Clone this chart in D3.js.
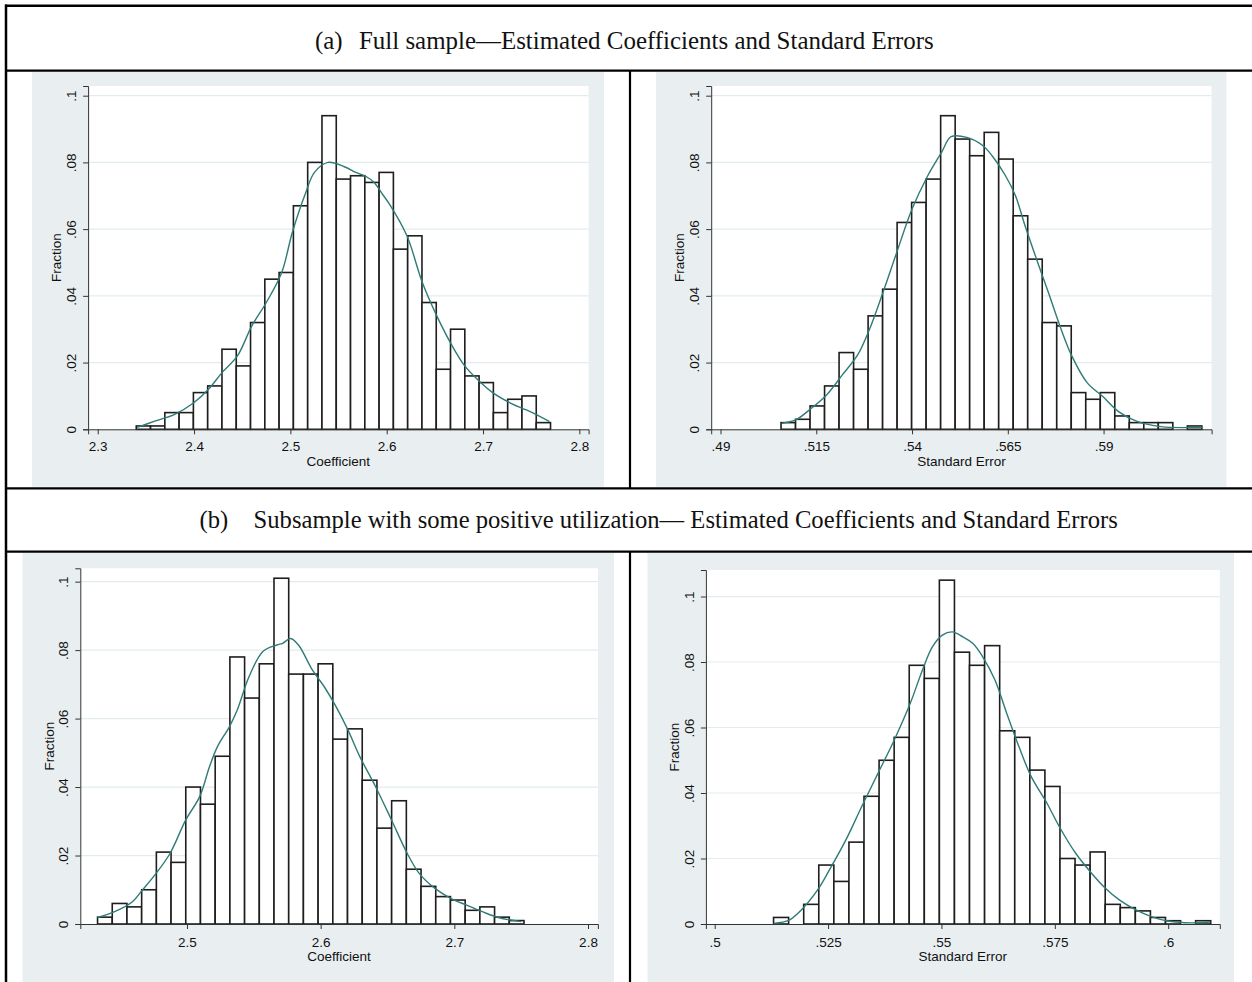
<!DOCTYPE html>
<html><head><meta charset="utf-8">
<script src="https://cdn.jsdelivr.net/npm/d3@7"></script>
<style>html,body{margin:0;padding:0;background:#fff;}svg{display:block;}</style>
</head><body>
<script>
// ---------- DATA ----------
const titleALabel = "(a)";
const titleAText = "Full sample—Estimated Coefficients and Standard Errors";
const titleBLabel = "(b)";
const titleBText = "Subsample with some positive utilization— Estimated Coefficients and Standard Errors";

const yTickVals = [0, 0.02, 0.04, 0.06, 0.08, 0.1];
const yTickLabels = ["0", ".02", ".04", ".06", ".08", ".1"];
const yTitle = "Fraction";

// (a) full sample, coefficient
const coefFullBins = [0.001,0.001,0.005,0.005,0.011,0.013,0.024,0.019,0.032,0.045,0.047,0.067,0.080,0.094,0.075,0.076,0.074,0.077,0.054,0.058,0.038,0.018,0.030,0.016,0.014,0.005,0.009,0.010,0.002];
const coefFullBinStart = 2.34, coefFullBinWidth = 0.01483;
const coefFullCurveX = [2.341,2.36,2.38,2.399,2.415,2.429,2.445,2.46,2.475,2.491,2.502,2.516,2.525,2.539,2.556,2.568,2.579,2.587,2.595,2.604,2.621,2.637,2.652,2.668,2.681,2.694,2.71,2.729,2.745,2.756,2.769];
const coefFullCurveY = [0.0006,0.0025,0.0045,0.0078,0.012,0.017,0.022,0.031,0.038,0.047,0.059,0.071,0.077,0.080,0.0787,0.077,0.0757,0.074,0.0707,0.067,0.058,0.044,0.034,0.025,0.019,0.015,0.011,0.0078,0.0058,0.0043,0.0023];
const coefFullTicks = [2.3, 2.4, 2.5, 2.6, 2.7, 2.8];
const coefFullTickLabels = ["2.3","2.4","2.5","2.6","2.7","2.8"];

// (a) full sample, standard error
const seFullBins = [0.002,0.003,0.007,0.013,0.023,0.018,0.034,0.042,0.062,0.068,0.075,0.094,0.087,0.082,0.089,0.081,0.064,0.051,0.032,0.031,0.011,0.009,0.011,0.004,0.002,0.002,0.002,0,0.001];
const seFullBinStart = 0.5058, seFullBinWidth = 0.003788;
const seFullCurveX = [.5060,.5096,.5137,.5177,.5218,.5258,.5289,.5324,.5360,.5400,.5441,.5477,.5502,.5543,.5583,.5609,.5644,.5670,.5695,.5725,.5756,.5786,.5817,.5857,.5898,.5939,.5989,.6050,.6111,.6158];
const seFullCurveY = [.0018,.0028,.0063,.0103,.0163,.0223,.030,.041,.053,.066,.076,.083,.0877,.0875,.0852,.082,.076,.070,.061,.051,.041,.031,.022,.014,.0098,.0053,.0023,.0008,.0005,.0006];
const seFullTicks = [0.49, 0.515, 0.54, 0.565, 0.59];
const seFullTickLabels = [".49",".515",".54",".565",".59"];

// (b) subsample, coefficient
const coefSubBins = [0.002,0.006,0.005,0.010,0.021,0.018,0.040,0.035,0.049,0.078,0.066,0.076,0.101,0.073,0.073,0.076,0.054,0.057,0.042,0.028,0.036,0.016,0.011,0.008,0.007,0.004,0.005,0.002,0.001];
const coefSubBinStart = 2.4331, coefSubBinWidth = 0.011;
const coefSubCurveX = [2.4331,2.4459,2.4592,2.4666,2.4769,2.4873,2.4991,2.5095,2.5169,2.5228,2.5317,2.5376,2.5464,2.5568,2.5672,2.5716,2.5775,2.5834,2.5938,2.6027,2.6115,2.6204,2.6293,2.6411,2.6530,2.6648,2.6737,2.6855,2.6973,2.7092,2.7210,2.7328,2.75];
const coefSubCurveY = [.0019,.0036,.0065,.0099,.0148,.0206,.0304,.0372,.0460,.0518,.0576,.0625,.0722,.0796,.0815,.0820,.0834,.0815,.0742,.0693,.0635,.0567,.0489,.0401,.0304,.0206,.0148,.0104,.0075,.0055,.0036,.0019,.0007];
const coefSubTicks = [2.5, 2.6, 2.7, 2.8];
const coefSubTickLabels = ["2.5","2.6","2.7","2.8"];

// (b) subsample, standard error
const seSubBins = [0.002,0,0.006,0.018,0.013,0.025,0.039,0.050,0.057,0.079,0.075,0.105,0.083,0.079,0.085,0.059,0.057,0.047,0.042,0.020,0.018,0.022,0.006,0.005,0.004,0.002,0.001,0,0.001];
const seSubBinStart = 0.51298, seSubBinWidth = 0.003324;
const seSubCurveX = [.5130,.5164,.5191,.5227,.5253,.5289,.5324,.5360,.5396,.5431,.5458,.5480,.5502,.5524,.5547,.5569,.5591,.5618,.5644,.5671,.5698,.5733,.5760,.5796,.5831,.5858,.5893,.5929,.5964,.6000,.6036,.6071,.6093];
const seSubCurveY = [.0002,.0012,.0043,.0104,.0165,.0256,.0358,.0460,.0562,.0673,.0775,.0846,.0882,.0892,.0877,.0857,.0816,.0745,.0643,.0541,.0450,.0368,.0297,.0216,.0155,.0114,.0073,.0043,.0022,.0009,.0004,.0004,.0006];
const seSubTicks = [0.5, 0.525, 0.55, 0.575, 0.6];
const seSubTickLabels = [".5",".525",".55",".575",".6"];

// ---------- LAYOUT ----------
const W = 1252, H = 982;
const svg = d3.select("body").append("svg").attr("width", W).attr("height", H);

const BG = "#e9eff1", GRID = "#e2ebee", BAR_STROKE = "#1e1e1e", CURVE = "#2f7b76";
const axisFont = "'Liberation Sans', Arial, sans-serif";
const serif = "'Liberation Serif', 'Times New Roman', serif";
const AFS = 13.5;

const panels = [
  {bg:[32,71.7,604,486.7], plot:[88.1,86,588.6,429.3], xDom:[2.2900,2.8096], yMax:0.1029,
   bins:coefFullBins, start:coefFullBinStart, width:coefFullBinWidth, cx:coefFullCurveX, cy:coefFullCurveY,
   ticks:coefFullTicks, tickLabels:coefFullTickLabels, xTitle:"Coefficient", pad:7},
  {bg:[656,71.7,1226.5,486.7], plot:[711.2,86,1211.6,429.3], xDom:[0.48757,0.6182], yMax:0.1029,
   bins:seFullBins, start:seFullBinStart, width:seFullBinWidth, cx:seFullCurveX, cy:seFullCurveY,
   ticks:seFullTicks, tickLabels:seFullTickLabels, xTitle:"Standard Error", pad:7},
  {bg:[22.5,553,614,982], plot:[80.3,568.3,597.9,924], xDom:[2.4202,2.8074], yMax:0.1039,
   bins:coefSubBins, start:coefSubBinStart, width:coefSubBinWidth, cx:coefSubCurveX, cy:coefSubCurveY,
   ticks:coefSubTicks, tickLabels:coefSubTickLabels, xTitle:"Coefficient", pad:8},
  {bg:[647.5,553,1234,982], plot:[705.9,570,1219.8,924], xDom:[0.49806,0.61138], yMax:0.1081,
   bins:seSubBins, start:seSubBinStart, width:seSubBinWidth, cx:seSubCurveX, cy:seSubCurveY,
   ticks:seSubTicks, tickLabels:seSubTickLabels, xTitle:"Standard Error", pad:8}
];

panels.forEach(p => {
  const g = svg.append("g");
  g.append("rect").attr("x", p.bg[0]).attr("y", p.bg[1]).attr("width", p.bg[2]-p.bg[0]).attr("height", p.bg[3]-p.bg[1]).attr("fill", BG);
  const [L,T,R,B] = p.plot;
  g.append("rect").attr("x", L).attr("y", T).attr("width", R-L).attr("height", B-T).attr("fill", "#fff");
  const x = d3.scaleLinear().domain(p.xDom).range([L, R]);
  const y = d3.scaleLinear().domain([0, p.yMax]).range([B, T]);

  g.selectAll(".grid").data(yTickVals.filter(v => v > 0)).join("line")
    .attr("x1", L).attr("x2", R).attr("y1", d => y(d)).attr("y2", d => y(d))
    .attr("stroke", GRID).attr("stroke-width", 1.2);

  const binData = p.bins.map((h, i) => ({x0: p.start + i*p.width, x1: p.start + (i+1)*p.width, h}));
  g.selectAll(".bar").data(binData.filter(d => d.h > 0)).join("rect")
    .attr("x", d => x(d.x0)).attr("width", d => x(d.x1) - x(d.x0))
    .attr("y", d => y(d.h)).attr("height", d => y(0) - y(d.h))
    .attr("fill", "#fff").attr("stroke", BAR_STROKE).attr("stroke-width", 1.6);

  const pts = p.cx.map((v, i) => [v, p.cy[i]]);
  g.append("path").datum(pts)
    .attr("d", d3.line().x(d => x(d[0])).y(d => y(d[1])).curve(d3.curveCatmullRom))
    .attr("fill", "none").attr("stroke", CURVE).attr("stroke-width", 1.4);

  const xa = g.append("g").attr("transform", `translate(0,${B})`)
    .call(d3.axisBottom(x).tickValues(p.ticks).tickFormat((d,i) => p.tickLabels[i]).tickSizeOuter(0).tickSize(5).tickPadding(p.pad));
  xa.select(".domain").attr("stroke", "#333");
  xa.selectAll(".tick line").attr("stroke", "#333");
  xa.selectAll("text").attr("font-family", axisFont).attr("font-size", AFS).attr("fill", "#111");

  const ya = g.append("g").attr("transform", `translate(${L},0)`)
    .call(d3.axisLeft(y).tickValues(yTickVals).tickFormat((d,i) => yTickLabels[i]).tickSizeOuter(0).tickSize(5));
  ya.select(".domain").attr("stroke", "#333");
  ya.selectAll(".tick line").attr("stroke", "#333");
  ya.selectAll("text").attr("font-family", axisFont).attr("font-size", AFS).attr("fill", "#111")
    .attr("x", null).attr("dy", "0.35em").attr("text-anchor", "middle")
    .attr("transform", "translate(-17,0) rotate(-90)");

  g.append("text").attr("x", (L+R)/2).attr("y", B + 36.5).attr("text-anchor", "middle")
    .attr("font-family", axisFont).attr("font-size", AFS).attr("fill", "#111").text(p.xTitle);
  g.append("text").attr("transform", `translate(${L-31.5},${(T+B)/2}) rotate(-90)`).attr("dy", "0.35em")
    .attr("text-anchor", "middle").attr("font-family", axisFont).attr("font-size", AFS).attr("fill", "#111").text(yTitle);
});

// ---------- TABLE LINES ----------
const lines = svg.append("g").attr("stroke", "#000");
lines.append("line").attr("x1", 5).attr("x2", W).attr("y1", 5.7).attr("y2", 5.7).attr("stroke-width", 2.5);
lines.append("line").attr("x1", 6).attr("x2", 6).attr("y1", 4.5).attr("y2", H).attr("stroke-width", 2.5);
[70.7, 488.3, 551.7].forEach(yy => lines.append("line").attr("x1", 5).attr("x2", W).attr("y1", yy).attr("y2", yy).attr("stroke-width", 2.2));
lines.append("line").attr("x1", 630).attr("x2", 630).attr("y1", 70.7).attr("y2", 488.3).attr("stroke-width", 2.2);
lines.append("line").attr("x1", 630).attr("x2", 630).attr("y1", 551.7).attr("y2", H).attr("stroke-width", 2.2);

// ---------- TITLES ----------
function title(label, text, labelX, textX, textEnd, baseline) {
  const t1 = svg.append("text").attr("x", labelX).attr("y", baseline).attr("font-family", serif).attr("font-size", 20).attr("fill", "#111").text(label);
  const t2 = svg.append("text").attr("x", textX).attr("y", baseline).attr("font-family", serif).attr("font-size", 20).attr("fill", "#111").text(text);
  const len = t2.node().getComputedTextLength();
  const fs = 20 * (textEnd - textX) / len;
  t2.attr("font-size", fs);
  t1.attr("font-size", fs);
}
title(titleALabel, titleAText, 315, 359, 934, 48.5);
title(titleBLabel, titleBText, 199.6, 253.6, 1118, 528);
</script>
</body></html>
